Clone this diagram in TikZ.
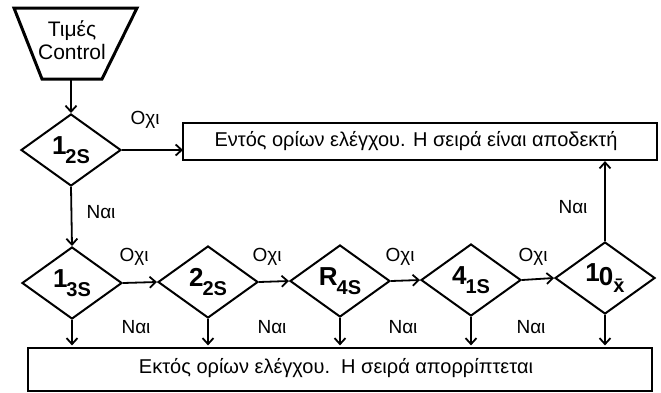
\documentclass[tikz,border=0pt]{standalone}
\usepackage{fontspec}
\setmainfont{Liberation Sans}
\usetikzlibrary{arrows.meta,shapes.geometric}
\tikzset{
  dia/.style={draw, line width=2pt, diamond, inner sep=0pt, minimum width=100pt, minimum height=72pt, font=\fontsize{20}{20}\selectfont\bfseries},
  box/.style={draw, line width=2.2pt, inner sep=0pt, font=\fontsize{20}{20}\selectfont},
  lbl/.style={font=\fontsize{19}{19}\selectfont, inner sep=0pt},
  arr/.style={line width=1.8pt, -{Straight Barb[length=6pt,width=11pt,line width=1.8pt]}},
}
\newcommand{\rulelbl}[2]{\raisebox{0.4ex}{\fontsize{26}{26}\selectfont #1}\kern-1pt\raisebox{-0.45ex}{#2}}
\begin{document}
\begin{tikzpicture}[x=1pt,y=-1pt]
\useasboundingbox (0,0) rectangle (661,392);
% start trapezoid
\draw[line width=3pt] (14,8) -- (137,8) -- (102,79) -- (42,79) -- cycle;
\node[align=center, font=\fontsize{21}{23}\selectfont, inner sep=0pt] (start) at (72,40) {Τιμές\\Control};
\coordinate (startb) at (71,79);
% diamonds
\node[dia] (d1) at (71,150) {\rulelbl{1}{2S}};
\node[dia] (d2) at (72,283) {\rulelbl{1}{3S}};
\node[dia] (d3) at (208,282) {\rulelbl{2}{2S}};
\node[dia] (d4) at (340,281) {\rulelbl{R}{4S}};
\node[dia] (d5) at (471,280) {\rulelbl{4}{1S}};
\node[dia] (d6) at (605,278) {\raisebox{0.4ex}{\fontsize{26}{26}\selectfont 1}\kern-1pt{\fontsize{26}{26}\selectfont 0}\raisebox{-0.6ex}{x̄}};
% boxes
\draw[box] (183,123) rectangle (657,160);
\node[box, draw=none, minimum width=474pt, minimum height=37pt] (acc) at (416,141.5) {Εντός ορίων ελέγχου. Η σειρά είναι αποδεκτή};
\draw[box] (28,348) rectangle (652,391);
\node[box, draw=none, minimum width=624pt, minimum height=43pt] (rej) at (336,368) {Εκτός ορίων ελέγχου.\ \ Η σειρά απορρίπτεται};
% connectors
\draw[arr] (startb) -- (startb |- d1.north);
\draw[arr] (d1.east) -- (d1.east -| 183,0);
\draw[arr] (d1.south) -- (d2.north);
\draw[arr] (d2.east) -- (d3.west);
\draw[arr] (d3.east) -- (d4.west);
\draw[arr] (d4.east) -- (d5.west);
\draw[arr] (d5.east) -- (d6.west);
\draw[arr] (d6.north) -- (d6.north |- acc.south);
\foreach \d in {d2,d3,d4,d5,d6}
  \draw[arr] (\d.south) -- (\d.south |- rej.north);
% labels
\node[lbl] (o1) at (145,120) {Οχι};
\node[lbl] (n1) at (101,212) {Ναι};
\node[lbl] (o2) at (134,257) {Οχι};
\node[lbl] (o3) at (267,257) {Οχι};
\node[lbl] (o4) at (400,257) {Οχι};
\node[lbl] (o5) at (533,257) {Οχι};
\node[lbl] (n2) at (136,327) {Ναι};
\node[lbl] (n3) at (272,327) {Ναι};
\node[lbl] (n4) at (403,327) {Ναι};
\node[lbl] (n5) at (531,327) {Ναι};
\node[lbl] (n6) at (573,207) {Ναι};
\end{tikzpicture}
\end{document}
